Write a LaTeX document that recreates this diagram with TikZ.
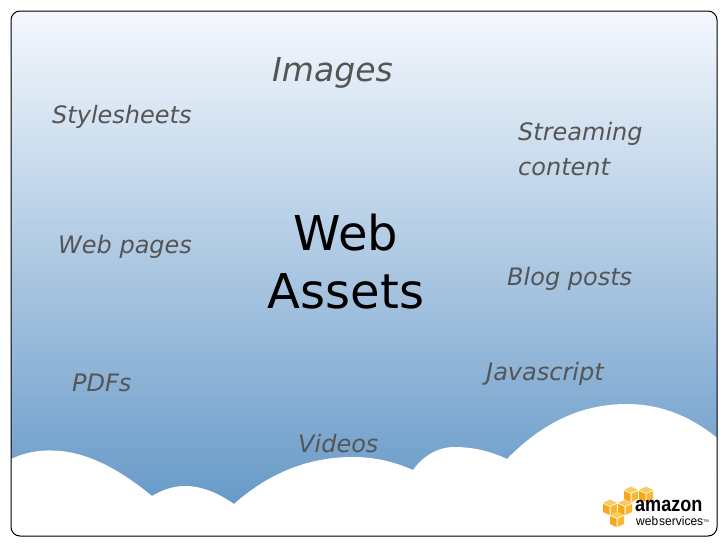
\documentclass[tikz,border=0pt]{standalone}
\usepackage{graphicx}
\usepackage{fontspec}
\setmainfont{DejaVu Sans}
\newfontfamily\logofont{Liberation Sans}
\definecolor{skytop}{HTML}{F4F8FD}
\definecolor{skymid}{HTML}{A2C0DD}
\definecolor{skybot}{HTML}{5F94C5}
\definecolor{labelgray}{HTML}{555555}
\definecolor{cubeA}{HTML}{F8B72F}
\definecolor{cubeB}{HTML}{F5A81C}
\definecolor{cubeC}{HTML}{FBCB5E}
\newcommand{\awscube}[2]{%
  \begin{scope}[shift={(#1,#2)}]
    \fill[cubeC] (0,-3.2) -- (7,-6.4) -- (14,-3.2) -- (7,0) -- cycle;
    \fill[cubeB] (0,-2.2) -- (6.5,0.8) -- (6.5,9) -- (0,6) -- cycle;
    \fill[cubeA] (14,-2.2) -- (7.5,0.8) -- (7.5,9) -- (14,6) -- cycle;
  \end{scope}}
\tikzset{
  item/.style={anchor=base west,inner sep=0pt,text=labelgray,font=\fontsize{24}{24}\selectfont\itshape},
  itembig/.style={item,font=\fontsize{33}{33}\selectfont\itshape},
  titletext/.style={anchor=base,inner sep=0pt,text=black,font=\fontsize{48}{48}\selectfont},
  frame/.style={rounded corners=9pt},
}
\begin{document}
\begin{tikzpicture}[x=1pt,y=-1pt]
\useasboundingbox (0,0) rectangle (728,546);
\fill[white] (0,0) rectangle (728,546);
\begin{scope}
  \clip[frame] (11,11) rectangle (717,536);
  \shade[top color=skytop,middle color=skymid,bottom color=skybot,shading=axis] (11,11) rectangle (717,536);
  \fill[white] (5,462)
    .. controls (20,454) and (35,450) .. (52,450.5)
    .. controls (85,451) and (118,468) .. (152,496)
    .. controls (162,490) and (173,486) .. (185,486)
    .. controls (202,486) and (218,493) .. (234,504)
    .. controls (270,472) and (310,457) .. (353,457)
    .. controls (375,457) and (395,462) .. (413,470)
    .. controls (423,456) and (438,447) .. (454,447)
    .. controls (473,447) and (490,451) .. (507,459)
    .. controls (545,420) and (585,404) .. (627,404)
    .. controls (660,404) and (692,416) .. (722,442)
    -- (722,540) -- (5,540) -- cycle;
\end{scope}
\draw[black,line width=1pt,frame] (11,11) rectangle (717,536);

\node[itembig] (images) at (272,81) {Images};
\node[item] (style) at (52,123) {Stylesheets};
\node[item] (stream) at (518,140) {Streaming};
\node[item] (content) at (518,175) {content};
\node[item] (webpages) at (58,253) {Web pages};
\node[item] (blog) at (507,285) {Blog posts};
\node[item] (js) at (486,380) {Javascript};
\node[item] (pdfs) at (72,391) {PDFs};
\node[item] (videos) at (298,452) {Videos};
\node[titletext] (web) at (346,250) {Web};
\node[titletext] (assets) at (346,308) {Assets};

\awscube{624}{493}
\awscube{639}{493}
\awscube{603}{506}
\awscube{618}{506}
\awscube{610}{518}
\node[anchor=base west,inner sep=0pt,font=\logofont\bfseries\fontsize{21}{21}\selectfont] (amazon) at (635,511.5) {\scalebox{0.86}[1]{amazon}};
\node[anchor=base west,inner sep=0pt,font=\logofont\fontsize{12.5}{12.5}\selectfont] (aws) at (636,525.5) {\scalebox{0.96}[1]{web\kern1pt services\raisebox{3pt}{\fontsize{4}{4}\selectfont TM}}};
\end{tikzpicture}
\end{document}
